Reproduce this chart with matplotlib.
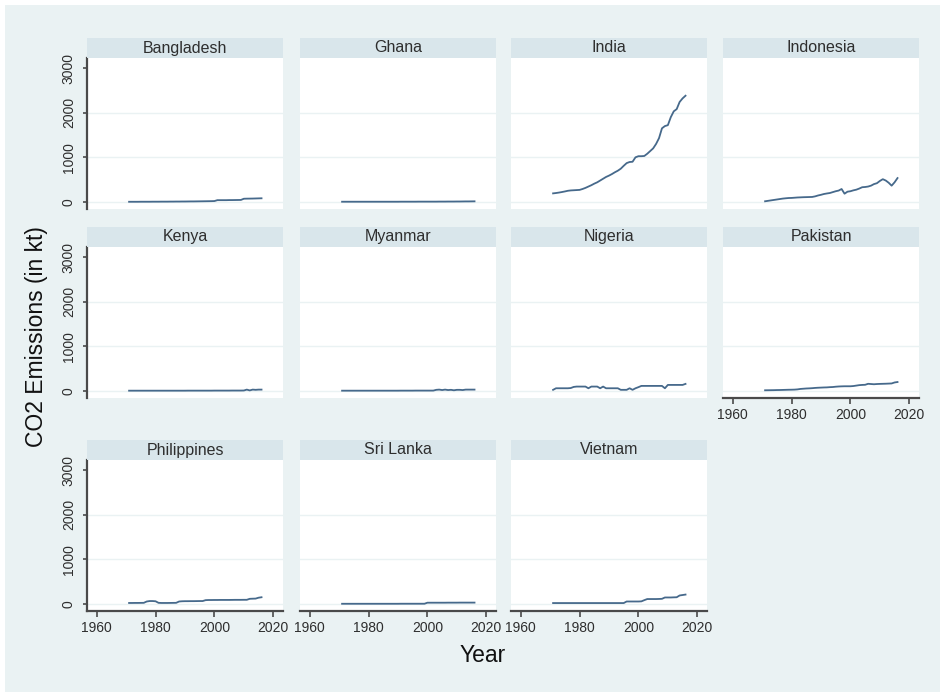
import matplotlib

matplotlib.use("Agg")
import matplotlib.pyplot as plt
from matplotlib.patches import Rectangle

plt.rcParams["font.family"] = ["Liberation Sans", "DejaVu Sans"]

# --- data -------------------------------------------------------------------
years = list(range(1971, 2017))

countries = ["Bangladesh", "Ghana", "India", "Indonesia",
             "Kenya", "Myanmar", "Nigeria", "Pakistan",
             "Philippines", "Sri Lanka", "Vietnam"]

bangladesh = [4, 4, 4, 4, 5, 5, 5, 5, 6, 6, 6, 7, 7, 7, 8, 8, 9, 9, 10, 10,
              11, 12, 12, 13, 14, 15, 16, 17, 18, 20, 40, 40, 40, 40, 42, 42,
              43, 44, 45, 72, 74, 75, 76, 78, 80, 82]
ghana = [5, 5, 5, 5, 5, 5, 5, 5, 5, 5, 5, 5, 5, 5, 5, 5, 5, 5, 5, 5,
         6, 6, 6, 6, 6, 6, 7, 7, 7, 7, 7, 7, 7, 8, 8, 8, 9, 9, 9, 10,
         10, 11, 12, 12, 13, 14]
india = [192, 200, 210, 222, 235, 250, 258, 262, 266, 270, 290, 315, 345,
         375, 410, 440, 480, 520, 560, 590, 625, 665, 700, 745, 810, 870,
         895, 900, 1000, 1025, 1025, 1030, 1080, 1140, 1200, 1300, 1430,
         1650, 1700, 1720, 1900, 2030, 2080, 2240, 2320, 2380]
indonesia = [15, 25, 35, 45, 55, 65, 75, 82, 88, 90, 95, 100, 103, 106, 108,
             110, 112, 125, 145, 160, 178, 190, 200, 220, 240, 255, 290, 185,
             230, 240, 260, 275, 300, 330, 335, 345, 365, 400, 420, 470, 510,
             480, 430, 365, 440, 535]
kenya = [6, 6, 6, 6, 6, 6, 6, 6, 6, 6, 6, 6, 6, 6, 6, 6, 6, 6, 6, 6,
         7, 7, 7, 7, 7, 7, 7, 7, 7, 8, 8, 8, 8, 8, 8, 9, 9, 9, 9, 10,
         30, 12, 30, 25, 30, 30]
myanmar = [6, 6, 6, 6, 6, 6, 6, 6, 6, 6, 6, 6, 6, 6, 6, 6, 6, 6, 6, 6,
           7, 7, 7, 7, 7, 8, 8, 8, 8, 8, 8, 8, 25, 30, 20, 30, 20, 25, 15,
           25, 25, 20, 30, 30, 30, 30]
nigeria = [25, 60, 60, 60, 60, 60, 65, 90, 98, 98, 98, 98, 60, 98, 98, 98,
           60, 98, 60, 60, 60, 60, 60, 25, 25, 25, 60, 25, 60, 85, 113, 113,
           113, 113, 113, 113, 113, 113, 60, 135, 135, 135, 135, 135, 135, 158]
pakistan = [15, 16, 17, 18, 20, 21, 23, 25, 27, 28, 30, 35, 45, 50, 55, 58,
            62, 68, 72, 75, 78, 80, 85, 88, 95, 100, 103, 105, 105, 105, 110,
            120, 130, 135, 138, 160, 155, 150, 155, 158, 160, 162, 165, 168,
            190, 200]
philippines = [22, 22, 23, 23, 24, 25, 55, 65, 65, 60, 25, 22, 22, 22, 23,
               24, 25, 55, 60, 62, 62, 63, 63, 64, 65, 65, 85, 88, 88, 89,
               89, 90, 90, 90, 90, 91, 92, 92, 92, 93, 93, 115, 118, 120,
               140, 150]
sri_lanka = [4, 4, 4, 4, 4, 4, 4, 4, 4, 4, 4, 4, 4, 4, 4, 4, 4, 4, 4, 4,
             5, 5, 5, 5, 5, 5, 5, 5, 5, 28, 28, 28, 28, 28, 28, 28, 29, 29,
             29, 29, 30, 30, 30, 30, 30, 30]
vietnam = [20, 20, 20, 20, 20, 20, 20, 20, 20, 20, 20, 20, 20, 20, 20, 20,
           20, 20, 20, 20, 20, 20, 20, 20, 20, 55, 55, 55, 55, 55, 58, 85,
           110, 110, 110, 110, 112, 115, 145, 145, 145, 148, 150, 190, 200, 210]

series = [bangladesh, ghana, india, indonesia, kenya, myanmar, nigeria,
          pakistan, philippines, sri_lanka, vietnam]

y_ticks = [0, 1000, 2000, 3000]
x_ticks = [1960, 1980, 2000, 2020]

# --- layout (pixels, top-left origin) --------------------------------------
W, H = 940, 692
col_left = [87, 300, 511, 723]
row_top = [58, 247, 460]
panel_w, panel_h, strip_h = 196, 151, 20

BG = "#eaf2f3"
STRIP = "#d9e6eb"
LINE = "#46698b"
AXIS = "#4a4a4a"
TEXT = "#2e2e2e"

fig = plt.figure(figsize=(W / 100, H / 100), dpi=100)
fig.patch.set_facecolor("white")
fig.add_artist(Rectangle((5 / W, 0), 1, 1 - 5 / H, transform=fig.transFigure,
                         facecolor=BG, edgecolor="none", zorder=-5))

for i, (name, vals) in enumerate(zip(countries, series)):
    row, col = divmod(i, 4)
    left, top = col_left[col], row_top[row]
    show_x = i >= 7
    show_y = col == 0

    ax = fig.add_axes([left / W, 1 - (top + panel_h) / H, panel_w / W, panel_h / H])
    ax.set_facecolor("white")
    for g in y_ticks[:-1]:
        ax.axhline(g, color=BG, lw=1.0, zorder=0)
    ax.plot(years, vals, color=LINE, lw=1.3, zorder=2)

    ax.set_xlim(1956.7, 2023.3)
    ax.set_ylim(-158, 3225)
    ax.set_xticks(x_ticks)
    ax.set_yticks(y_ticks)

    for side in ("top", "right"):
        ax.spines[side].set_visible(False)
    ax.spines["left"].set_visible(show_y)
    ax.spines["bottom"].set_visible(show_x)
    for side in ("left", "bottom"):
        ax.spines[side].set_color(AXIS)
        ax.spines[side].set_linewidth(1.6)

    ax.tick_params(axis="x", bottom=show_x, labelbottom=show_x, direction="out",
                   length=4, width=1.2, color=AXIS, labelsize=10,
                   labelcolor=TEXT, pad=3)
    ax.tick_params(axis="y", left=show_y, labelleft=show_y, direction="out",
                   length=3, width=1.2, color=AXIS, labelsize=10,
                   labelcolor=TEXT, pad=5, labelrotation=90)
    for lab in ax.get_yticklabels():
        lab.set_va("center")

    # panel title strip
    fig.add_artist(Rectangle((left / W, 1 - top / H), panel_w / W, strip_h / H,
                             transform=fig.transFigure, facecolor=STRIP,
                             edgecolor="none"))
    fig.text((left + panel_w / 2) / W, 1 - (top - strip_h / 2) / H, name,
             ha="center", va="center", fontsize=11.5, color=TEXT)

fig.text(37 / W, 1 - 337 / H, "CO2 Emissions (in kt)", rotation=90,
         ha="center", va="center", fontsize=16.5, color="#111111")
fig.text(483 / W, 1 - 656 / H, "Year", ha="center", va="center",
         fontsize=16.5, color="#111111")

fig.savefig("out.png", dpi=100, facecolor=fig.get_facecolor())
